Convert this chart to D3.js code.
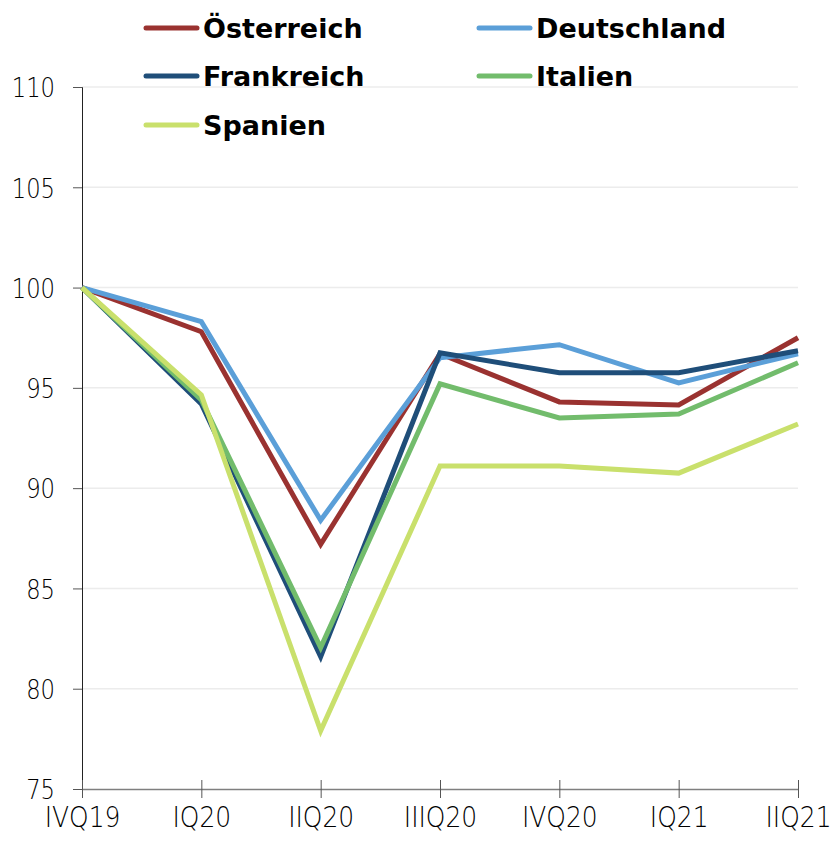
<html>
<head>
<script src="https://d3js.org/d3.v7.min.js"></script>
<style>
  body { margin: 0; background: #fff; }
  .axis text { font-family: "DejaVu Sans", "Liberation Sans", sans-serif; font-weight: 300; fill: #000; }
  .legend text { font-family: "DejaVu Sans", "Liberation Sans", sans-serif; font-weight: bold; fill: #000; }
</style>
</head>
<body>
<svg id="chart" width="832" height="841"></svg>
<script>
var quarters = ["IVQ19", "IQ20", "IIQ20", "IIIQ20", "IVQ20", "IQ21", "IIQ21"];
var countries = ["Österreich", "Deutschland", "Frankreich", "Italien", "Spanien"];
var colors = ["#9a3230", "#5b9fd8", "#1f4e79", "#72bc6c", "#c9e06c"];

var oesterreich = [100, 97.8, 87.2, 96.7, 94.3, 94.15, 97.5];
var deutschland = [100, 98.3, 88.4, 96.5, 97.15, 95.25, 96.7];
var frankreich  = [100, 94.2, 81.6, 96.75, 95.75, 95.75, 96.85];
var italien     = [100, 94.4, 82.05, 95.2, 93.5, 93.7, 96.25];
var spanien     = [100, 94.65, 77.9, 91.1, 91.1, 90.75, 93.2];
var series = [oesterreich, deutschland, frankreich, italien, spanien];

var yTicks = [75, 80, 85, 90, 95, 100, 105, 110];

var svg = d3.select("#chart");
var plotLeft = 82, plotRight = 798, plotTop = 87, plotBottom = 789;
var squeeze = 0.84; // y labels a bit narrower
var xSqueeze = 0.89;

var x = d3.scalePoint().domain(quarters).range([plotLeft, plotRight]);
var y = d3.scaleLinear().domain([75, 110]).range([plotBottom, plotTop]);

// gridlines
svg.append("g").selectAll("line")
  .data(yTicks.slice(1))
  .enter().append("line")
    .attr("x1", plotLeft).attr("x2", plotRight)
    .attr("y1", function(d){ return y(d); })
    .attr("y2", function(d){ return y(d); })
    .style("stroke", "#ececec")
    .style("stroke-width", 1.5);

// y axis
var yAxis = svg.append("g").attr("class", "axis")
  .attr("transform", "translate(" + plotLeft + ",0)")
  .call(d3.axisLeft(y).tickValues(yTicks).tickSize(9));
yAxis.select(".domain").style("stroke", "#222").style("stroke-width", 1);
yAxis.selectAll(".tick line").style("stroke", "#555");
yAxis.selectAll("text")
  .style("font-size", "27px")
  .attr("x", -27 / squeeze)
  .attr("dy", "0.36em")
  .attr("transform", "scale(" + squeeze + ",1)");

// x axis
var xAxis = svg.append("g").attr("class", "axis")
  .attr("transform", "translate(0," + plotBottom + ")")
  .call(d3.axisBottom(x).tickSizeOuter(0).tickSizeInner(9));
xAxis.select(".domain").style("stroke", "#7f7f7f").style("stroke-width", 1.5);
xAxis.selectAll(".tick line").attr("y1", -9).style("stroke", "#555");
xAxis.selectAll("text")
  .style("font-size", "28px")
  .attr("y", 38).attr("dy", 0)
  .attr("transform", "scale(" + xSqueeze + ",1)");

// lines
var line = d3.line()
  .x(function(d, i){ return x(quarters[i]); })
  .y(function(d){ return y(d); });

svg.append("g").selectAll("path")
  .data(series)
  .enter().append("path")
    .attr("d", line)
    .style("fill", "none")
    .style("stroke", function(d, i){ return colors[i]; })
    .style("stroke-width", 5)
    .style("stroke-linejoin", "miter");

// legend
var legendPos = [[144, 28], [477, 28], [144, 76], [477, 76], [144, 125]];
var leg = svg.append("g").attr("class", "legend")
  .selectAll("g")
  .data(countries)
  .enter().append("g")
    .attr("transform", function(d, i){ return "translate(" + legendPos[i][0] + "," + legendPos[i][1] + ")"; });
leg.append("line")
  .attr("x1", 2).attr("x2", 53).attr("y1", 0).attr("y2", 0)
  .style("stroke", function(d, i){ return colors[i]; })
  .style("stroke-width", 5)
  .style("stroke-linecap", "round");
leg.append("text")
  .attr("x", 59).attr("y", 0)
  .attr("dy", "0.36em")
  .style("font-size", "27px")
  .text(function(d){ return d; });
</script>
</body>
</html>
